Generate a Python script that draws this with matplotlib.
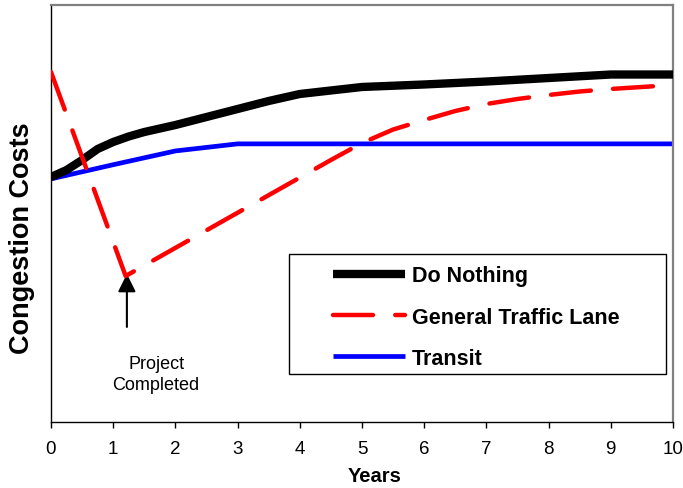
import matplotlib
matplotlib.use("Agg")
import matplotlib.pyplot as plt
from matplotlib.patches import Rectangle

plt.rcParams['font.family'] = ['Liberation Sans', 'DejaVu Sans']

# Data (congestion cost index)
years_do_nothing = [0, 0.25, 0.5, 0.75, 1, 1.25, 1.5, 2, 3, 3.5, 4, 4.5, 5, 6, 7, 8, 9, 10]
do_nothing = [58.75, 60.43, 62.83, 65.47, 67.15, 68.47, 69.54, 71.22, 75.06, 76.98,
              78.66, 79.50, 80.34, 80.94, 81.65, 82.49, 83.33, 83.33]

years_gtl = [0, 1.2, 4.5, 5, 5.5, 6, 6.5, 7, 7.5, 8, 8.5, 9, 9.5, 10]
general_traffic_lane = [83.93, 35.01, 62.83, 66.91, 70.14, 72.42, 74.58, 76.26, 77.46,
                        78.42, 79.26, 79.86, 80.34, 80.82]

years_transit = [0, 1, 2, 3, 10]
transit = [58.3, 61.7, 65.0, 66.7, 66.7]

xticks = list(range(0, 11))

W, H = 683, 489
fig = plt.figure(figsize=(W / 100, H / 100), dpi=100)
ax = fig.add_axes([51 / W, 1 - 423 / H, 622 / W, 417 / H])
ax.set_xlim(0, 10)
ax.set_ylim(0, 100)

ax.plot(years_do_nothing, do_nothing, color='black', lw=6, solid_capstyle='butt',
        solid_joinstyle='round', label='Do Nothing', zorder=3)
ax.plot(years_gtl, general_traffic_lane, color='#ff0000', lw=3.2,
        dashes=(9, 5), dash_capstyle='round', dash_joinstyle='round',
        label='General Traffic Lane', zorder=4)
ax.plot(years_transit, transit, color='#0000ff', lw=3.4, solid_capstyle='butt',
        label='Transit', zorder=2)

# spines
for s in ['left', 'bottom']:
    ax.spines[s].set_color('black')
    ax.spines[s].set_linewidth(1.0)
for s in ['top', 'right']:
    ax.spines[s].set_color('#808080')
    ax.spines[s].set_linewidth(1.6)

ax.set_xticks(xticks)
ax.set_xticklabels([str(t) for t in xticks], fontsize=13.5)
ax.tick_params(axis='x', direction='out', length=4, width=1, pad=9)
ax.set_yticks([])

fig.text(22 / W, 1 - 238 / H, 'Congestion Costs', rotation=90, ha='center', va='center',
         fontsize=19.5, fontweight='bold')
fig.text(375 / W, 1 - 477 / H, 'Years', ha='center', va='center',
         fontsize=14.5, fontweight='bold')

# annotation arrow
ax.annotate('', xy=(1.22, 35.5), xytext=(1.22, 22.8),
            arrowprops=dict(arrowstyle='-|>', mutation_scale=27, lw=1.5,
                            color='black', shrinkA=0, shrinkB=0))
ax.text(1.69, 11.5, 'Project\nCompleted', ha='center', va='center', fontsize=13,
        linespacing=1.3)

# legend box
box = Rectangle((289 / W, 1 - 375 / H), 377 / W, 120 / H,
                transform=fig.transFigure, facecolor='white',
                edgecolor='black', lw=1.0, zorder=5, clip_on=False)
ax.add_patch(box)
leg = ax.legend(loc='center left', bbox_to_anchor=(333 / W, 1 - 318 / H),
                bbox_transform=fig.transFigure, frameon=False,
                prop={'size': 15.5, 'weight': 'bold'}, handlelength=3.35,
                handletextpad=0.33, labelspacing=0.95, borderpad=0, borderaxespad=0)
leg.set_zorder(6)

fig.savefig('out.png', dpi=100)
